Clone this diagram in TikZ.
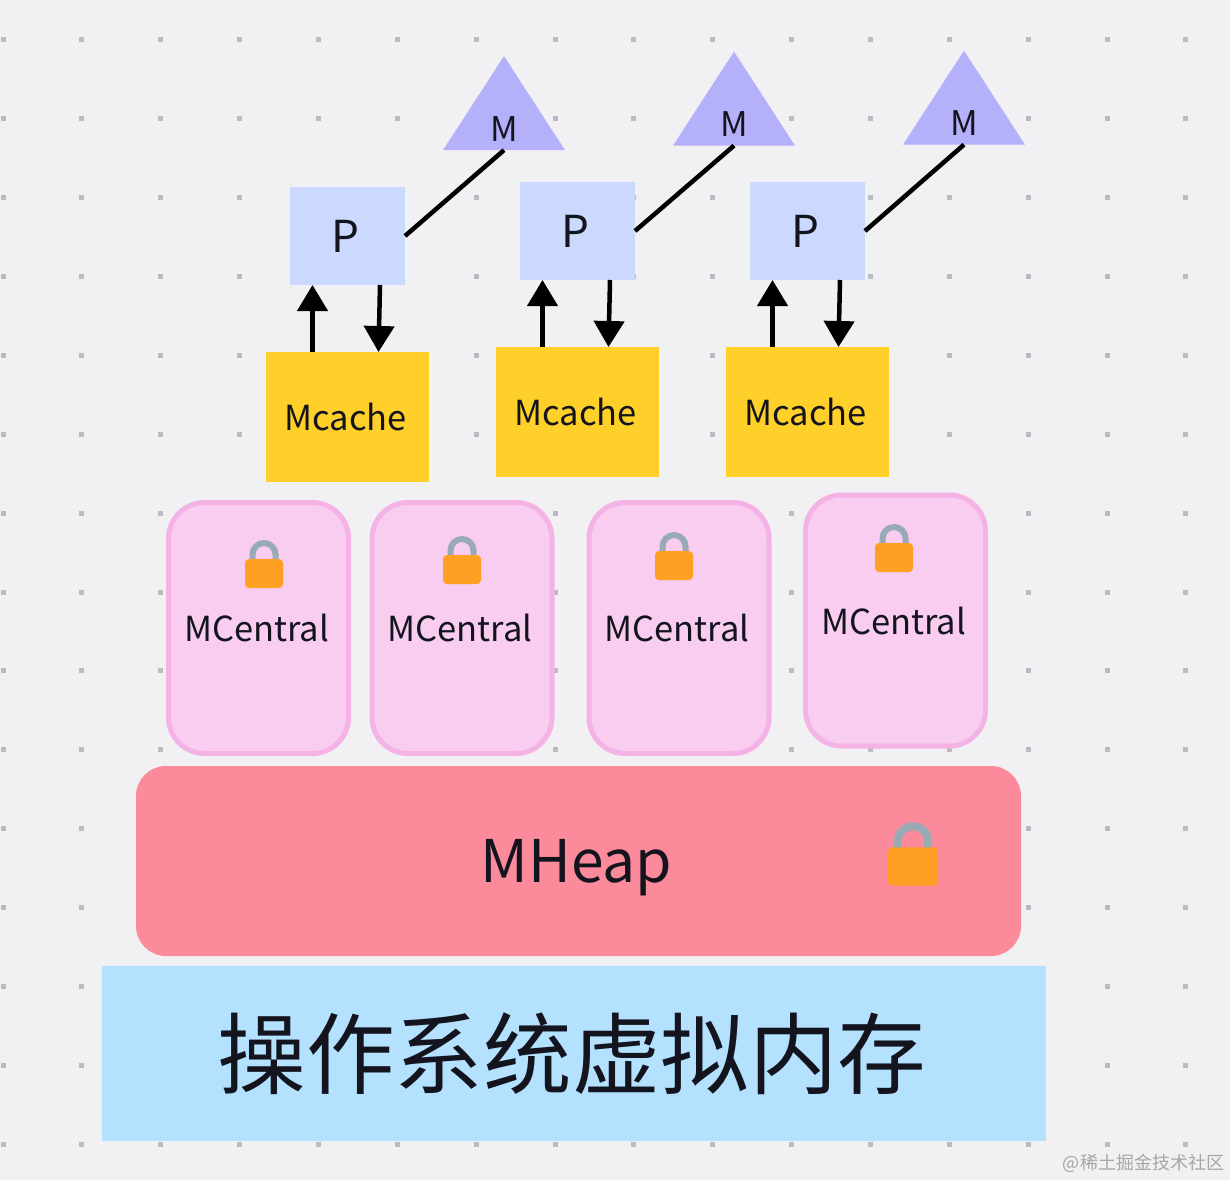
\documentclass[tikz,border=0pt]{standalone}
\usepackage{fontspec}
\setmainfont{Noto Sans CJK SC}
\usetikzlibrary{positioning,calc,shapes.geometric,arrows.meta}
\definecolor{bgc}{HTML}{F1F1F4}
\definecolor{dotc}{HTML}{BCBCC0}
\definecolor{inkc}{HTML}{14141E}
\tikzset{
	box/.style={inner sep=0pt, outer sep=0pt, text=inkc},
	nudged/.style={execute at begin node=\hspace*{-4pt}},
	procbox/.style={box, nudged, fill={rgb,255:red,202;green,217;blue,253}, minimum width=115pt, minimum height=98pt, font=\fontsize{44}{48}\selectfont},
	cachebox/.style={box, nudged, fill={rgb,255:red,255;green,208;blue,41}, minimum width=163pt, minimum height=129.5pt, font=\fontsize{34.5}{40}\selectfont},
	centralbox/.style={box, nudged, draw={rgb,255:red,245;green,178;blue,229}, line width=5pt, fill={rgb,255:red,248;green,205;blue,239}, rounded corners=36pt, minimum width=180pt, minimum height=251pt, font=\fontsize{34.5}{40}\selectfont},
	threadtri/.style={box, isosceles triangle, isosceles triangle stretches, shape border rotate=90, fill={rgb,255:red,180;green,176;blue,250}, minimum width=122pt, minimum height=94pt},
	threadtxt/.style={box, font=\fontsize{34}{38}\selectfont},
	joinline/.style={line width=4.5pt, draw=black},
	flowline/.style={line width=4.5pt, draw=black, -{Triangle[width=30pt,length=26pt]}},
	pics/padlock/.style={code={
		\draw[line width=#1pt, draw={rgb,255:red,153;green,170;blue,181}] (-11.5,-10) -- (-11.5,-19) arc[start angle=180, end angle=360, radius=11.5] -- (11.5,-10);
		\fill[fill={rgb,255:red,255;green,160;blue,36}, rounded corners=4pt] (-19,-14.5) rectangle (19,14.5);
	}},
}
\begin{document}
\begin{tikzpicture}[x=1pt,y=-1pt]
	\useasboundingbox (0,0) rectangle (1230,1180);
	\fill[bgc] (0,0) rectangle (1230,1180);
	% Grid
	\foreach \gx in {3,81.86,...,1190}
		\foreach \gy in {40,118.86,...,1150}
			\fill[dotc] (\gx-2.5,\gy-2.5) rectangle (\gx+2.5,\gy+2.5);
	% Bottom layers
	\node[box, nudged, fill={rgb,255:red,179;green,225;blue,254}, minimum width=944pt, minimum height=175pt, font=\fontsize{88.6}{96}\selectfont] (Virtual) at (574,1053.5) {操作系统虚拟内存};
	\node[box, nudged, fill={rgb,255:red,251;green,138;blue,155}, minimum width=885pt, minimum height=190pt, rounded corners=30pt, text height=55pt, text depth=13pt, font=\fontsize{58.8}{66}\selectfont] (Heap) at (578.5,861) {MHeap};
	% Central
	\node[centralbox] (Central1) at (258.5,628) {MCentral};
	\node[centralbox, right=23.5pt of Central1] (Central2) {MCentral};
	\node[centralbox, right=37pt of Central2] (Central3) {MCentral};
	\node[centralbox] (Central4) at (895.5,620.5) {MCentral};
	\pic at (264,573.5) {padlock=6};
	\pic at (462,569.5) {padlock=6};
	\pic at (674,565.5) {padlock=6};
	\pic at (894,557.5) {padlock=6};
	\pic[scale=1.32] at (913,866.5) {padlock=8};
	% P and Mcache
	\node[procbox] (P1) at (347.5,236) {P};
	\node[procbox] (P2) at (577.5,231) {P};
	\node[procbox] (P3) at (807.5,231) {P};
	\node[cachebox, below=67pt of P1] (Mcache1) {Mcache};
	\node[cachebox, below=67pt of P2] (Mcache2) {Mcache};
	\node[cachebox, below=67pt of P3] (Mcache3) {Mcache};
	% M
	\node[threadtri] (M1) at (504,117) {};
	\node[threadtri] (M2) at (734,112.5) {};
	\node[threadtri] (M3) at (964,111.5) {};
	\node[threadtxt] (M1t) at (504,129) {M};
	\node[threadtxt] (M2t) at (734,124.5) {M};
	\node[threadtxt] (M3t) at (964,123.5) {M};
	% Edges
	\draw[joinline] (P1.east) -- (M1.south);
	\draw[joinline] (P2.east) -- (M2.south);
	\draw[joinline] (P3.east) -- (M3.south);
	\draw[flowline] ([xshift=-35pt]Mcache1.north) -- ([xshift=-35pt]P1.south);
	\draw[flowline] ([xshift=32.5pt]P1.south) -- ([xshift=31pt]Mcache1.north);
	\draw[flowline] ([xshift=-35pt]Mcache2.north) -- ([xshift=-35pt]P2.south);
	\draw[flowline] ([xshift=32.5pt]P2.south) -- ([xshift=31pt]Mcache2.north);
	\draw[flowline] ([xshift=-35pt]Mcache3.north) -- ([xshift=-35pt]P3.south);
	\draw[flowline] ([xshift=32.5pt]P3.south) -- ([xshift=31pt]Mcache3.north);
	% Mark
	\node[box, anchor=east, text=gray!70, font=\fontsize{18}{20}\selectfont] (Mark) at (1224,1163) {@稀土掘金技术社区};
\end{tikzpicture}
\end{document}
